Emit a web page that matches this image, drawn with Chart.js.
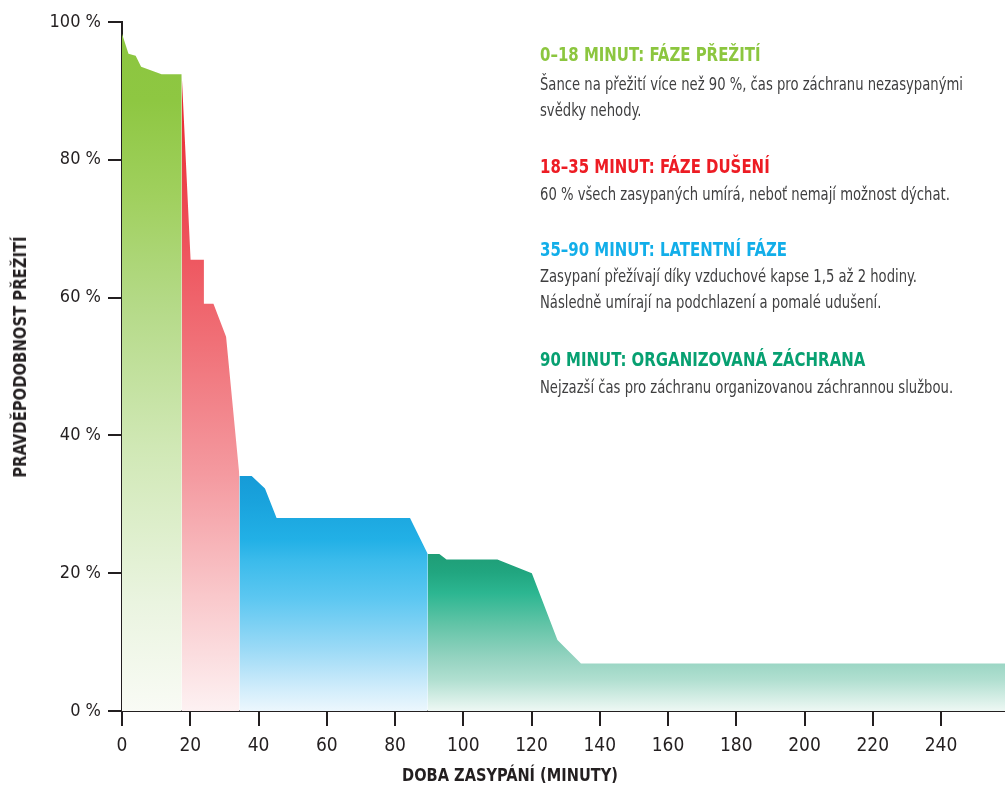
<!DOCTYPE html>
<html lang="cs">
<head>
<meta charset="utf-8">
<title>Pravděpodobnost přežití v lavině</title>
<script src="https://cdn.jsdelivr.net/npm/chart.js@4.4.1/dist/chart.umd.min.js"></script>
<style>
  html, body { margin: 0; padding: 0; background: #ffffff; }
  #wrap { position: relative; width: 1005px; height: 787px; overflow: hidden; }
  #chart { position: absolute; left: 0; top: 0; }
  .note { position: absolute; left: 540px; white-space: nowrap; line-height: 26px; height: 26px;
          font-family: 'DejaVu Sans Condensed', 'Liberation Sans', sans-serif;
          transform-origin: 0 0; }
  .head { font-weight: bold; font-size: 19px; transform: scaleX(0.875); }
  .body { font-size: 17px; color: #3f3f40; transform: scaleX(0.862); }
  .axis-title { position: absolute; white-space: nowrap; line-height: 24px;
                font-family: 'DejaVu Sans Condensed', 'Liberation Sans', sans-serif;
                font-weight: bold; font-size: 18px; color: #231f20; }
  #xtitle { left: 510px; top: 763px; transform: translateX(-50%) scaleX(0.9); transform-origin: 50% 50%; }
  #ytitle { left: 20px; top: 357px; transform: translate(-50%, -50%) rotate(-90deg) scaleX(0.915); }
</style>
</head>
<body>
<div id="wrap">
  <canvas id="chart" width="1005" height="787"></canvas>
  <div class="note head" style="top:41px;color:#8cc63f">0–18 MINUT: FÁZE PŘEŽITÍ</div>
  <div class="note body" style="top:71px">Šance na přežití více než 90 %, čas pro záchranu nezasypanými</div>
  <div class="note body" style="top:97px">svědky nehody.</div>
  <div class="note head" style="top:153px;color:#ed1c24">18–35 MINUT: FÁZE DUŠENÍ</div>
  <div class="note body" style="top:181px">60 % všech zasypaných umírá, neboť nemají možnost dýchat.</div>
  <div class="note head" style="top:236px;color:#12aee9">35–90 MINUT: LATENTNÍ FÁZE</div>
  <div class="note body" style="top:263px">Zasypaní přežívají díky vzduchové kapse 1,5 až 2 hodiny.</div>
  <div class="note body" style="top:289px">Následně umírají na podchlazení a pomalé udušení.</div>
  <div class="note head" style="top:346px;color:#07a071">90 MINUT: ORGANIZOVANÁ ZÁCHRANA</div>
  <div class="note body" style="top:374px">Nejzazší čas pro záchranu organizovanou záchrannou službou.</div>
  <div class="axis-title" id="xtitle">DOBA ZASYPÁNÍ (MINUTY)</div>
  <div class="axis-title" id="ytitle">PRAVDĚPODOBNOST PŘEŽITÍ</div>
</div>
<script>
// Survival probability (%) against burial time (minutes), split into four phases
const survivalMinutes = [0, 1.9, 4.0, 5.6, 11.6, 17.5];
const survivalPct     = [98.3, 95.4, 95.1, 93.5, 92.4, 92.4];

const asphyxiaMinutes = [17.5, 20.1, 24.0, 24.0, 26.8, 30.5, 34.4];
const asphyxiaPct     = [92.4, 65.5, 65.5, 59.1, 59.1, 54.3, 34.2];

const latentMinutes   = [34.4, 38.0, 41.9, 45.3, 84.4, 89.6];
const latentPct       = [34.1, 34.1, 32.3, 28.0, 28.0, 22.8];

const rescueMinutes   = [89.6, 93.0, 95.1, 110.0, 120.1, 127.6, 134.5, 258.75];
const rescuePct       = [22.8, 22.8, 22.0, 22.0, 20.0, 10.3, 6.9, 6.9];

const xTickStep = 20;
const yTickStep = 20;
const xMax = 258.75;

const inkColor = '#231f20';
const narrow = "'DejaVu Sans Condensed', 'Liberation Sans', sans-serif";

function points(xs, ys) {
  return xs.map((x, i) => ({ x: x, y: ys[i] }));
}

// Vertical gradient from the top of a phase's area down to the 0 % line
function fadeFill(stops) {
  return function (context) {
    const chart = context.chart;
    const area = chart.chartArea;
    if (!area) return stops[0][1];
    const ds = chart.data.datasets[context.datasetIndex];
    const top = Math.max.apply(null, ds.data.map(p => p.y));
    const yScale = chart.scales.y;
    const g = chart.ctx.createLinearGradient(0, yScale.getPixelForValue(top), 0, yScale.getPixelForValue(0));
    stops.forEach(s => g.addColorStop(s[0], s[1]));
    return g;
  };
}

function phase(label, xs, ys, stops) {
  return {
    label: label,
    data: points(xs, ys),
    fill: 'origin',
    borderWidth: 0,
    borderColor: 'rgba(0,0,0,0)',
    pointRadius: 0,
    tension: 0,
    backgroundColor: fadeFill(stops)
  };
}

new Chart(document.getElementById('chart'), {
  type: 'line',
  data: {
    datasets: [
      phase('0–18 minut', survivalMinutes, survivalPct, [
        [0, '#8cc63f'], [0.1, '#8ec742'], [0.24, '#a0d05e'], [0.39, '#b3d985'],
        [0.61, '#d0e8b5'], [0.84, '#eaf4e0'], [1, '#f9fbf5']
      ]),
      phase('18–35 minut', asphyxiaMinutes, asphyxiaPct, [
        [0, '#e8232c'], [0.12, '#ec3a42'], [0.29, '#ee5760'], [0.42, '#f07077'],
        [0.63, '#f49aa0'], [0.82, '#f9c8cb'], [1, '#fdf1f2']
      ]),
      phase('35–90 minut', latentMinutes, latentPct, [
        [0, '#169bd7'], [0.1, '#19a2dc'], [0.27, '#22b0e6'], [0.36, '#3bbbeb'],
        [0.52, '#5cc7f1'], [0.74, '#9cdaf6'], [0.91, '#d2edfb'], [1, '#ecf7fd']
      ]),
      phase('90 minut a déle', rescueMinutes, rescuePct, [
        [0, '#1f9d76'], [0.12, '#21a680'], [0.25, '#2cb691'], [0.45, '#62c4a7'],
        [0.65, '#92d2bf'], [0.8, '#b0dfd0'], [1, '#eef8f4']
      ])
    ]
  },
  options: {
    responsive: false,
    animation: false,
    devicePixelRatio: 1,
    layout: { padding: { top: 22, right: 0, left: 0, bottom: 0 } },
    plugins: { legend: { display: false }, tooltip: { enabled: false } },
    scales: {
      x: {
        type: 'linear',
        min: 0,
        max: xMax,
        afterFit: s => { s.height = 76; },
        ticks: { stepSize: xTickStep, includeBounds: false, autoSkip: false, color: inkColor,
                 padding: 9, maxRotation: 0, font: { family: narrow, size: 19 } },
        grid: { drawOnChartArea: false, drawTicks: true, tickLength: 15, color: inkColor, lineWidth: 2 },
        border: { display: true, color: inkColor, width: 2 }
      },
      y: {
        min: 0,
        max: 100,
        afterFit: s => { s.width = 122; },
        ticks: { stepSize: yTickStep, color: inkColor, padding: 7,
                 font: { family: narrow, size: 18 },
                 callback: v => v + ' %' },
        grid: { drawOnChartArea: false, drawTicks: true, tickLength: 14, color: inkColor, lineWidth: 2 },
        border: { display: true, color: inkColor, width: 2 }
      }
    }
  }
});
</script>
</body>
</html>
